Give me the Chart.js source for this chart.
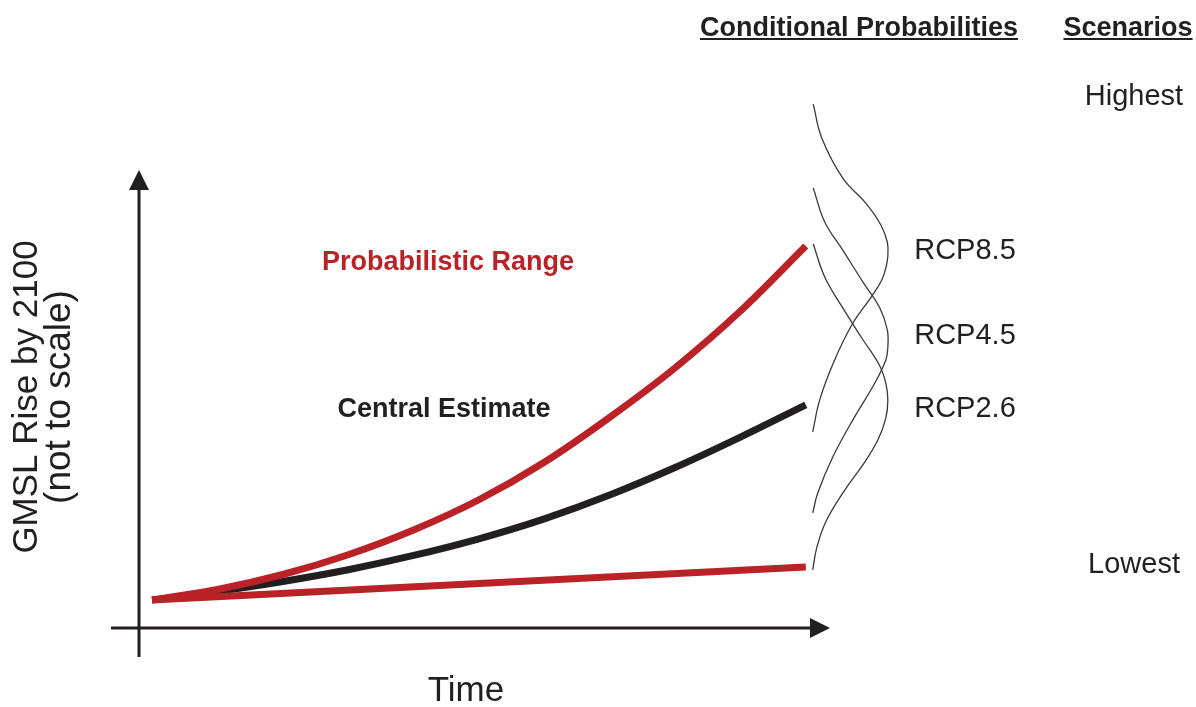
<!DOCTYPE html>
<html>
<head>
<meta charset="utf-8">
<script src="https://cdn.jsdelivr.net/npm/chart.js@4.4.1/dist/chart.umd.min.js"></script>
<style>
    html, body { margin: 0; padding: 0; background: #fff; }
    #chart { display: block; }
</style>
</head>
<body>
<canvas id="chart" width="1196" height="707"></canvas>
<script>
// schematic GMSL rise (arbitrary units, "not to scale")
const years = [2000, 2010, 2020, 2030, 2040, 2050, 2060, 2070, 2080, 2090, 2100];
const upperRange = [0.153, 0.210, 0.292, 0.400, 0.535, 0.700, 0.905, 1.150, 1.420, 1.730, 2.085];
const centralEstimate = [0.153, 0.200, 0.254, 0.318, 0.396, 0.487, 0.596, 0.726, 0.876, 1.042, 1.218];
const lowerYears = [2000, 2100];
const lowerRange = [0.153, 0.333];

// conditional probability curves: density (0..1) against GMSL rise
const rcp85Density = [0.007, 0.120, 0.400, 0.707, 0.907, 0.993, 1.000, 0.973, 0.920, 0.787, 0.520, 0.280, 0.093, 0.000];
const rcp85Level   = [2.860, 2.675, 2.456, 2.319, 2.200, 2.107, 2.031, 1.965, 1.900, 1.812, 1.654, 1.452, 1.245, 1.070];
const rcp45Density = [0.007, 0.160, 0.400, 0.667, 0.893, 0.993, 1.000, 0.973, 0.827, 0.533, 0.267, 0.067, 0.000];
const rcp45Level   = [2.402, 2.216, 2.063, 1.889, 1.747, 1.627, 1.534, 1.463, 1.337, 1.135, 0.933, 0.737, 0.628];
const rcp26Density = [0.007, 0.160, 0.400, 0.653, 0.880, 0.973, 1.000, 0.973, 0.867, 0.667, 0.427, 0.173, 0.053, 0.000];
const rcp26Level   = [2.096, 1.916, 1.747, 1.583, 1.441, 1.337, 1.245, 1.146, 1.026, 0.890, 0.753, 0.579, 0.437, 0.317];

const RED = "#bb2227";
const BLACK = "#231f20";
const FONT = "'Liberation Sans', Arial, Helvetica, sans-serif";

function pairs(xs, ys) {
    return xs.map((x, i) => ({ x: x, y: ys[i] }));
}

function densityCurve(label, dens, level) {
    return {
        label: label,
        data: pairs(dens, level),
        xAxisID: "xd",
        borderColor: "#3a3a3a",
        borderWidth: 1.3,
        pointRadius: 0,
        tension: 0.4,
        capBezierPoints: false,
        clip: false,
        order: 5
    };
}

const schematic = {
    id: "schematic",
    beforeDatasetsDraw(chart) {
        const ctx = chart.ctx;
        const a = chart.chartArea;
        ctx.save();
        ctx.strokeStyle = BLACK;
        ctx.fillStyle = BLACK;
        ctx.lineWidth = 3;
        // y axis with arrow
        ctx.beginPath();
        ctx.moveTo(a.left, a.bottom + 29);
        ctx.lineTo(a.left, a.top + 18);
        ctx.stroke();
        ctx.beginPath();
        ctx.moveTo(a.left, a.top);
        ctx.lineTo(a.left - 10, a.top + 20);
        ctx.lineTo(a.left + 10, a.top + 20);
        ctx.closePath();
        ctx.fill();
        // x axis with arrow
        ctx.beginPath();
        ctx.moveTo(a.left - 28, a.bottom);
        ctx.lineTo(a.right - 18, a.bottom);
        ctx.stroke();
        ctx.beginPath();
        ctx.moveTo(a.right, a.bottom);
        ctx.lineTo(a.right - 20, a.bottom - 10);
        ctx.lineTo(a.right - 20, a.bottom + 10);
        ctx.closePath();
        ctx.fill();
        ctx.restore();
    },
    afterDraw(chart) {
        const ctx = chart.ctx;
        ctx.save();
        ctx.textBaseline = "alphabetic";
        ctx.textAlign = "center";

        function txt(s, x, y, size, weight, color, underline) {
            ctx.font = weight + " " + size + "px " + FONT;
            ctx.fillStyle = color;
            ctx.fillText(s, x, y);
            if (underline) {
                const w = ctx.measureText(s).width;
                ctx.fillRect(x - w / 2, y + 2, w, 2);
            }
        }

        txt("Conditional Probabilities", 859, 36, 27, "bold", BLACK, true);
        txt("Scenarios", 1128, 36, 27, "bold", BLACK, true);
        txt("Highest", 1134, 105, 29, "normal", BLACK);
        txt("Lowest", 1134, 573, 29, "normal", BLACK);
        txt("RCP8.5", 965, 259, 29, "normal", BLACK);
        txt("RCP4.5", 965, 344, 29, "normal", BLACK);
        txt("RCP2.6", 965, 417, 29, "normal", BLACK);
        txt("Probabilistic Range", 448, 270, 27, "bold", RED);
        txt("Central Estimate", 444, 417, 27, "bold", BLACK);
        txt("Time", 466, 701, 35, "normal", BLACK);

        // rotated y title
        ctx.fillStyle = BLACK;
        [["GMSL Rise by 2100", 37, 35], ["(not to scale)", 70, 37]].forEach(function (l) {
            ctx.save();
            ctx.font = "normal " + l[2] + "px " + FONT;
            ctx.translate(l[1], 397);
            ctx.rotate(-Math.PI / 2);
            ctx.fillText(l[0], 0, 0);
            ctx.restore();
        });
        ctx.restore();
    }
};

new Chart(document.getElementById("chart"), {
    type: "line",
    data: {
        datasets: [
            {
                label: "Probabilistic Range (upper)",
                data: pairs(years, upperRange),
                borderColor: RED,
                borderWidth: 7,
                pointRadius: 0,
                cubicInterpolationMode: "monotone",
                order: 1
            },
            {
                label: "Probabilistic Range (lower)",
                data: pairs(lowerYears, lowerRange),
                borderColor: RED,
                borderWidth: 7,
                pointRadius: 0,
                order: 2
            },
            {
                label: "Central Estimate",
                data: pairs(years, centralEstimate),
                borderColor: BLACK,
                borderWidth: 7,
                pointRadius: 0,
                cubicInterpolationMode: "monotone",
                order: 3
            },
            densityCurve("RCP8.5", rcp85Density, rcp85Level),
            densityCurve("RCP4.5", rcp45Density, rcp45Level),
            densityCurve("RCP2.6", rcp26Density, rcp26Level)
        ]
    },
    options: {
        responsive: false,
        devicePixelRatio: 1,
        animation: false,
        layout: {
            padding: { left: 139, right: 366, top: 170, bottom: 79 }
        },
        scales: {
            x: { type: "linear", min: 1998, max: 2103.7, display: false },
            xd: { type: "linear", axis: "x", min: -8.97, max: 0.23, display: false },
            y: { type: "linear", min: 0, max: 2.5, display: false }
        },
        plugins: {
            legend: { display: false },
            tooltip: { enabled: false }
        }
    },
    plugins: [schematic]
});
</script>
</body>
</html>
